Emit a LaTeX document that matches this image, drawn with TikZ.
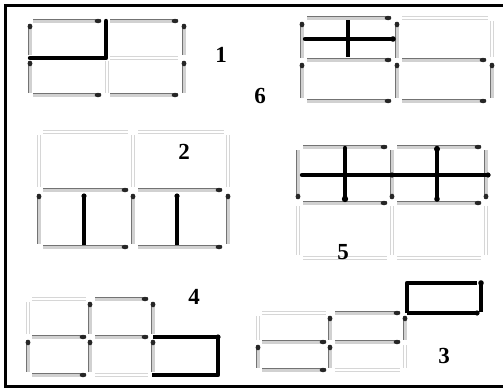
\documentclass[tikz,border=0pt]{standalone}
\usepackage{fontspec}
\setmainfont{Liberation Serif}
\tikzset{
  stick/.style={draw=black!55, line width=0.7pt, double=black!18, double distance=3pt},
  ghost/.style={draw=black!16, line width=0.4pt, double=white, double distance=2.6pt},
  heavy/.style={draw=black, line width=4.4pt, line cap=round, line join=round},
  numlabel/.style={font=\bfseries\fontsize{23}{23}\selectfont, inner sep=0pt},
  frameline/.style={draw=black, line width=3pt}
}
% horizontal stick, head at right end: x1 x2 y
\newcommand{\hst}[3]{\draw[stick] (#1,#3) -- (#2,#3);
  \fill[black!85] (#2-3,#3) ellipse [x radius=3.4pt, y radius=2.2pt];}
% vertical stick, head at top: x y1 y2
\newcommand{\vst}[3]{\draw[stick] (#1,#2) -- (#1,#3);
  \fill[black!85] (#1,#2+2.5) ellipse [x radius=2.4pt, y radius=2.8pt];}
% vertical stick, head at bottom: x y1 y2
\newcommand{\vsb}[3]{\draw[stick] (#1,#2) -- (#1,#3);
  \fill[black!85] (#1,#3-2.5) ellipse [x radius=2.4pt, y radius=2.8pt];}
% ghost sticks
\newcommand{\hgh}[3]{\draw[ghost] (#1,#3) -- (#2,#3);}
\newcommand{\vgh}[3]{\draw[ghost] (#1,#2) -- (#1,#3);}
\begin{document}
\begin{tikzpicture}[x=1pt,y=-1pt]
\useasboundingbox (0,0) rectangle (503,391);
\fill[white] (0,0) rectangle (503,391);
% frame
\draw[frameline] (504,5) -- (5.5,5) -- (5.5,386.5) -- (504,386.5);

% ---------- figure 1 ----------
\hgh{110}{178}{58}
\vgh{107}{61}{93}
\hst{33}{101}{21} \hst{110}{178}{21}
\vst{30}{24}{55} \vst{30}{61}{93}
\vst{184}{24}{55} \vst{184}{61}{93}
\hst{33}{101}{95} \hst{110}{178}{95}
\draw[heavy] (30,58) -- (106,58) -- (106,21);
\node[numlabel] (n1) at (221,55) {1};

% ---------- figure 6 ----------
\hgh{402}{488}{18}
\vgh{492}{21}{57}
\hst{307}{391}{18}
\vst{302}{22}{58} \vst{397}{22}{58}
\hst{307}{391}{60} \hst{402}{486}{60}
\vst{302}{63}{98} \vst{397}{63}{98} \vst{492}{63}{98}
\hst{307}{391}{101} \hst{402}{486}{101}
\draw[heavy] (305,39) -- (393,39);
\fill (393,39) circle [radius=2.8pt];
\draw[heavy, line cap=butt] (348,20) -- (348,57);
\node[numlabel] (n6) at (260,96) {6};

% ---------- figure 2 ----------
\hgh{43}{128}{132} \hgh{138}{224}{132}
\vgh{39}{135}{187} \vgh{133}{135}{187} \vgh{228}{135}{187}
\hst{43}{128}{190} \hst{138}{222}{190}
\vst{39}{194}{244} \vst{133}{194}{244} \vst{228}{194}{244}
\hst{43}{128}{247} \hst{138}{222}{247}
\draw[heavy, line cap=butt] (84,195) -- (84,245);
\fill (84,196) circle [radius=2.6pt];
\draw[heavy, line cap=butt] (177,195) -- (177,245);
\fill (177,196) circle [radius=2.6pt];
\node[numlabel] (n2) at (184,152) {2};

% ---------- figure 5 ----------
\hgh{303}{387}{258} \hgh{397}{481}{258}
\vgh{298}{206}{255} \vgh{392}{206}{255} \vgh{486}{206}{255}
\hst{303}{387}{147} \hst{397}{481}{147}
\vsb{298}{150}{199} \vsb{392}{150}{199} \vsb{486}{150}{199}
\hst{303}{387}{203} \hst{397}{481}{203}
\draw[heavy] (302,175) -- (488,175);
\fill (392,175) circle [radius=2.6pt];
\fill (488,175) circle [radius=2.6pt];
\draw[heavy] (345,148) -- (345,199);
\fill (345,199) circle [radius=3.2pt];
\draw[heavy] (437,148) -- (437,199);
\fill (437,149) circle [radius=3pt];
\fill (437,199) circle [radius=2.8pt];
\node[numlabel] (n5) at (343,252) {5};

% ---------- figure 4 ----------
\hgh{32}{86}{299} \vgh{28}{302}{334}
\hgh{95}{148}{375}
\hst{95}{148}{299}
\vst{90}{302}{334} \vst{153}{302}{334}
\hst{32}{86}{337} \hst{95}{148}{337}
\vst{28}{340}{372} \vst{90}{340}{372}
\hst{32}{86}{375}
\vst{153}{340}{372}
\draw[heavy, line cap=butt] (153,337) -- (218,337) -- (218,375) -- (152,375);
\fill (218,337) circle [radius=2.6pt];
\node[numlabel] (n4) at (194,297) {4};

% ---------- figure 3 ----------
\hgh{262}{326}{313} \vgh{258}{316}{340}
\hgh{335}{400}{370} \vgh{405}{345}{368}
\hst{335}{400}{313}
\vst{330}{316}{340} \vst{405}{316}{340}
\hst{262}{326}{342} \hst{335}{400}{342}
\vst{258}{345}{368} \vst{330}{345}{368}
\hst{262}{326}{370}
\draw[heavy, line cap=butt] (407,313) -- (407,283) -- (477,283);
\draw[heavy, line cap=butt] (407,313) -- (477,313);
\fill (477,313) circle [radius=2.6pt];
\draw[heavy, line cap=butt] (481,283) -- (481,312);
\fill (481,283) circle [radius=2.8pt];
\node[numlabel] (n3) at (444,356) {3};
\end{tikzpicture}
\end{document}
